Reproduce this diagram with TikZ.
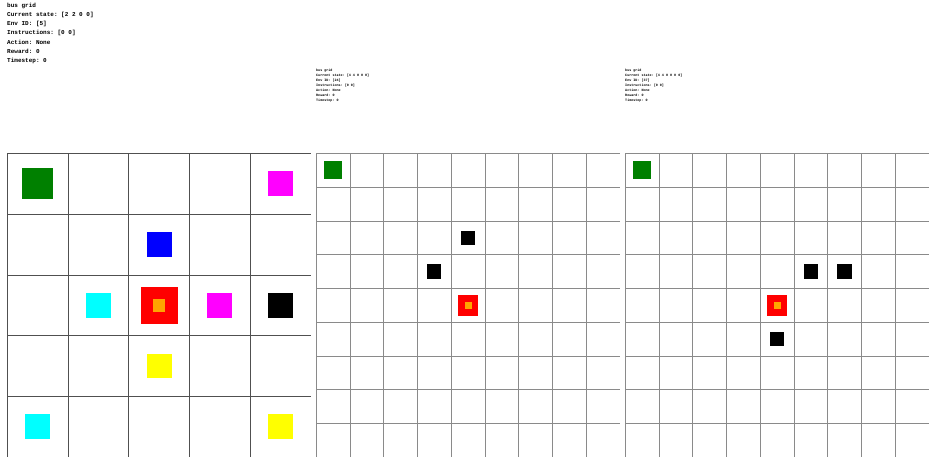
\documentclass[tikz,border=0pt]{standalone}
\usepackage{fontspec}
\setmonofont{Liberation Mono}
\definecolor{cgreen}{HTML}{008000}
\definecolor{cmag}{HTML}{FF00FF}
\definecolor{cblue}{HTML}{0000FF}
\definecolor{ccyan}{HTML}{00FFFF}
\definecolor{cred}{HTML}{FF0000}
\definecolor{corange}{HTML}{FFA500}
\definecolor{cyell}{HTML}{FFFF00}
\definecolor{gridbig}{HTML}{505050}
\definecolor{gridsmall}{HTML}{8A8A8A}
\newcommand\cellsq[6]{\fill[#6] ({#1+(#3+0.5-#5/2)*#2},{153.5+(#4+0.5-#5/2)*#2}) rectangle +({#5*#2},{#5*#2});}
\begin{document}
\begin{tikzpicture}[x=1pt,y=-1pt,
  biglabel/.style={anchor=base west,inner sep=0pt,font=\ttfamily\bfseries\fontsize{6}{7}\selectfont},
  smalllabel/.style={anchor=base west,inner sep=0pt,font=\ttfamily\bfseries\fontsize{3.4}{4}\selectfont},
  gridA/.style={draw=gridbig,line width=0.8pt},
  gridB/.style={draw=gridsmall,line width=0.7pt}]
\useasboundingbox[fill=white] (0,0) rectangle (933,457);
% ---- texts
\foreach \t [count=\k from 0] in {bus grid,Current state: [2 2 0 0],Env ID: [5],Instructions: [0 0],Action: None,Reward: 0,Timestep: 0}
  \node[biglabel] (tA\k) at (7,{7.4+9.2*\k}) {\t};
\foreach \t [count=\k from 0] in {bus grid,Current state: [4 4 0 0 0],Env ID: [24],Instructions: [0 0],Action: None,Reward: 0,Timestep: 0}
  \node[smalllabel] (tB\k) at (316,{72.0+4.9*\k}) {\t};
\foreach \t [count=\k from 0] in {bus grid,Current state: [4 4 0 0 0 0],Env ID: [37],Instructions: [0 0],Action: None,Reward: 0,Timestep: 0}
  \node[smalllabel] (tC\k) at (625,{72.0+4.9*\k}) {\t};
% ---- left grid 5x5
\foreach \k in {0,...,4} {
  \draw[gridA] ({7.3+\k*60.72},153.5) -- ++(0,304);
  \draw[gridA] (7.3,{153.5+\k*60.72}) -- ++(303.6,0);
}
\cellsq{7.3}{60.72}{0}{0}{0.51}{cgreen}
\cellsq{7.3}{60.72}{4}{0}{0.41}{cmag}
\cellsq{7.3}{60.72}{2}{1}{0.41}{cblue}
\cellsq{7.3}{60.72}{1}{2}{0.41}{ccyan}
\cellsq{7.3}{60.72}{2}{2}{0.61}{cred}
\cellsq{7.3}{60.72}{2}{2}{0.21}{corange}
\cellsq{7.3}{60.72}{3}{2}{0.41}{cmag}
\cellsq{7.3}{60.72}{4}{2}{0.41}{black}
\cellsq{7.3}{60.72}{2}{3}{0.41}{cyell}
\cellsq{7.3}{60.72}{0}{4}{0.41}{ccyan}
\cellsq{7.3}{60.72}{4}{4}{0.41}{cyell}
% ---- middle grid 9x9
\foreach \k in {0,...,8} {
  \draw[gridB] ({316.3+\k*33.73},153.5) -- ++(0,304);
  \draw[gridB] (316.3,{153.5+\k*33.73}) -- ++(303.6,0);
}
\cellsq{316.3}{33.73}{0}{0}{0.53}{cgreen}
\cellsq{316.3}{33.73}{4}{2}{0.42}{black}
\cellsq{316.3}{33.73}{3}{3}{0.42}{black}
\cellsq{316.3}{33.73}{4}{4}{0.61}{cred}
\cellsq{316.3}{33.73}{4}{4}{0.21}{corange}
% ---- right grid 9x9
\foreach \k in {0,...,8} {
  \draw[gridB] ({625.3+\k*33.73},153.5) -- ++(0,304);
  \draw[gridB] (625.3,{153.5+\k*33.73}) -- ++(303.6,0);
}
\cellsq{625.3}{33.73}{0}{0}{0.53}{cgreen}
\cellsq{625.3}{33.73}{5}{3}{0.42}{black}
\cellsq{625.3}{33.73}{6}{3}{0.42}{black}
\cellsq{625.3}{33.73}{4}{4}{0.61}{cred}
\cellsq{625.3}{33.73}{4}{4}{0.21}{corange}
\cellsq{625.3}{33.73}{4}{5}{0.42}{black}
\end{tikzpicture}
\end{document}
